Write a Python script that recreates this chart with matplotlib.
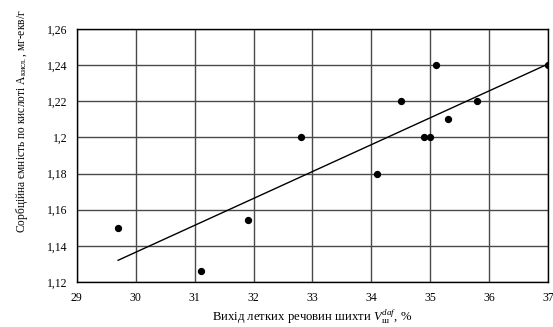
import matplotlib.pyplot as plt
import numpy as np

plt.rcParams["font.family"] = "Liberation Serif"
plt.rcParams["mathtext.fontset"] = "custom"
plt.rcParams["mathtext.rm"] = "Liberation Serif"
plt.rcParams["mathtext.it"] = "Liberation Serif:italic"

# Вихід летких речовин шихти, % та сорбційна ємність, мг-екв/г
volatiles = [29.7, 31.1, 31.9, 32.8, 34.1, 34.5, 34.9, 35.0, 35.1, 35.3, 35.8, 37.0]
capacity = [1.150, 1.126, 1.154, 1.200, 1.180, 1.220, 1.200, 1.200, 1.240, 1.210, 1.220, 1.240]

x_ticks = [29, 30, 31, 32, 33, 34, 35, 36, 37]
y_ticks = [1.12, 1.14, 1.16, 1.18, 1.20, 1.22, 1.24, 1.26]
y_tick_labels = ["1,12", "1,14", "1,16", "1,18", "1,2", "1,22", "1,24", "1,26"]

fig = plt.figure(figsize=(5.53, 3.27), dpi=100)
ax = fig.add_axes([0.139, 0.138, 0.852, 0.773])

ax.scatter(volatiles, capacity, s=18, color="black", zorder=3)

# linear trend
k, b = np.polyfit(volatiles, capacity, 1)
xs = np.array([min(volatiles), max(volatiles)])
ax.plot(xs, k * xs + b, color="black", linewidth=1.0, zorder=2)

ax.set_xlim(29, 37)
ax.set_ylim(1.12, 1.26)
ax.set_xticks(x_ticks)
ax.set_xticklabels([str(t) for t in x_ticks])
ax.set_yticks(y_ticks)
ax.set_yticklabels(y_tick_labels)
ax.tick_params(length=0, labelsize=8.5, pad=7)
ax.grid(True, color="#4a4a4a", linewidth=1.0)
ax.set_axisbelow(True)
for sp in ax.spines.values():
    sp.set_color("black")
    sp.set_linewidth(1.0)

ax.set_xlabel("Вихід летких речовин шихти $V_{\\mathrm{ш}}^{daf}$, %", fontsize=9.2, labelpad=3)
fig.text(0.04, 0.63, "Сорбційна ємність по кислоті A$_{\\mathrm{кисл.}}$, мг-екв/г",
         rotation=90, ha="center", va="center", fontsize=8.3)

fig.savefig("out.png", dpi=100)
